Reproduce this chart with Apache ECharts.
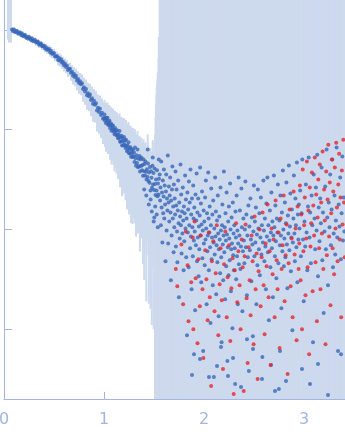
<!DOCTYPE html>
<html><head><meta charset="utf-8">
<script src="https://cdn.jsdelivr.net/npm/echarts@6/dist/echarts.min.js"></script>
<style>html,body{margin:0;padding:0;background:#fff;}#c{width:345px;height:437px;}</style>
</head><body><div id="c"></div>
<script>
// Tick positions
const xTicks = [0, 1, 2, 3];
const yTicks = [1, 10, 100, 1000];

// Low-q region: scattering vector q, intensity I, error
const qLow = [0.04,0.05,0.06,0.07,0.08,0.09,0.10,0.11,0.12,0.13,0.14,0.15,0.16,0.17,0.18,0.19,0.20,0.21,0.22,0.23,0.24,0.25,0.26,0.27,0.28,0.29,0.30,
0.31,0.32,0.33,0.34,0.35,0.36,0.37,0.38,0.39,0.40,0.41,0.42,0.43,0.44,0.45,0.46,0.47,0.48,0.49,0.50,0.51,0.52,0.53,0.54,0.55,0.56,0.57,0.58,0.59,0.60,
0.61,0.62,0.63,0.64,0.65,0.66,0.67,0.68,0.69,0.70,0.71,0.72,0.73,0.74,0.75,0.76,0.77,0.78,0.79,0.80,0.81,0.82,0.83,0.84,0.85,0.86,0.87,0.88,0.89,0.90,
0.91,0.92,0.93,0.94,0.95,0.96,0.97,0.98,0.99,
1.000,1.005,1.010,1.015,1.020,1.025,1.030,1.035,1.040,1.045,1.050,1.055,1.060,1.065,1.070,1.075,1.080,1.085,1.090,1.095,
1.100,1.105,1.110,1.115,1.120,1.125,1.130,1.135,1.140,1.145,1.150,1.155,1.160,1.165,1.170,1.175,1.180,1.185,1.190,1.195,
1.200,1.205,1.210,1.215,1.220,1.225,1.230,1.235,1.240,1.245,1.250,1.255,1.260,1.265,1.270,1.275,1.280,1.285,1.290,1.295,
1.300,1.305,1.310,1.315,1.320,1.325,1.330,1.335,1.340,1.345,1.350,1.355,1.360,1.365,1.370,1.375,1.380,1.385,1.390,1.395,
1.400,1.405,1.410,1.415,1.420,1.425,1.430,1.435,1.440,1.445,1.450,1.455,1.460,1.465,1.470,1.475,1.480,1.485,1.490,1.495,
1.500,1.505,1.510,1.515,1.520,1.525,1.530,1.535,1.540,1.545,1.550];
const iLow = [2300,2200,2150,2100,
1010,977,1010,955,966,977,923,933,944,891,923,871,881,891,841,851,822,851,822,794,822,776,785,
794,748,755,762,710,724,729,685,690,695,653,672,632,638,642,596,618,578,580,588,543,545,546,499,524,490,508,468,479,442,
457,426,438,397,405,407,372,381,347,362,335,348,311,322,294,306,286,292,256,266,242,255,222,232,216,225,198,207,182,195,
178,184,156,166,150,162,140,148,129,
131,142,123,131,116,130,122,132,112,120,112,123,104,111,115,97.7,110,102,110,96.4,
100,90.2,104,92.5,98.2,87.3,98.9,88.7,82,89.3,82.6,96.8,75.5,84.3,75.9,86.7,69.5,82,76.6,69.8,
84.3,70.5,77.6,65.6,79.4,68.2,60.8,70,62.4,74.8,58.1,65,58,66.7,53.6,62.7,58.5,53.3,63.4,54,
59.2,47.5,66.1,51.8,43.5,55.3,46.3,63.1,42.1,51,42.9,54.6,38,50.4,43.3,52.4,39.1,44.2,34.5,50.2,
38.3,45.4,34.7,48.1,37.8,31.6,40.2,33.6,45.8,30.5,37.2,29.4,42.2,24.6,38.2,32.9,26.1,43.4,28.2,36.8,
24.9,40.7,28.5,22.1,31.7,24.5,39.3,21.5,28.9,22.4,32.2];
const eLow = [1500,1450,1400,1350,
51,50,50,49,49,48,48,48,47,47,47,47,47,47,47,47,47,47,47,47,47,47,47,
48,48,49,49,50,51,52,52,53,54,54,55,55,56,56,57,57,57,57,57,57,57,58,58,58,59,59,59,59,59,
59,59,60,60,61,61,62,62,63,64,63,63,64,64,65,65,65,65,65,65,64,64,64,63,63,63,62,62,62,61,
60,60,60,59,59,58,58,57,57,
57,57,56,56,56,56,55,55,55,55,54,54,54,54,53,53,53,53,52,52,
52,52,51,51,51,51,50,50,50,50,49,49,49,49,48,48,48,48,47,47,
47,47,46,46,46,45,45,45,44,44,44,43,43,43,42,42,42,42,41,41,
36,36,35,35,35,34,34,34,33,33,33,32,32,32,31,31,31,30,30,30,
28,28,27,27,27,26,26,26,25,25,24,24,23,23,22,22,22,22,22,22,
22,35,60,110,150,200,250,300,350,500,800];

// Extra points in the widening band
const qMid = [1.402,1.423,1.437,1.448,1.466,1.478,1.487,1.497,1.503,1.512,1.527,1.538,1.548];
const iMid = [25.1,21.9,63.1,17.8,20.0,15.1,52.5,12.0,13.2,17.0,14.1,10.5,50.1];
const eMid = [22,20,27,16,18,14,26,11,12,60,250,350,800];

// High-q region, positive intensities
const qHigh = [
1.557,1.561,1.565,1.569,1.572,1.576,1.580,1.584,1.588,1.592,1.596,1.599,
1.603,1.607,1.611,1.615,1.619,1.622,1.626,1.630,1.634,1.638,1.642,1.646,1.649,
1.653,1.657,1.661,1.665,1.669,1.672,1.676,1.680,1.684,1.688,1.692,1.696,1.699,
1.703,1.707,1.711,1.715,1.719,1.722,1.726,1.730,1.734,1.738,1.742,1.746,1.749,
1.753,1.757,1.761,1.765,1.769,1.772,1.776,1.780,1.784,1.788,1.792,1.796,1.799,
1.803,1.807,1.811,1.815,1.819,1.822,1.826,1.830,1.834,1.838,1.842,1.846,1.849,
1.853,1.857,1.861,1.865,1.869,1.872,1.876,1.880,1.884,1.888,1.892,1.896,1.899,
1.903,1.907,1.911,1.915,1.919,1.922,1.926,1.930,1.934,1.938,1.942,1.946,1.949,
1.953,1.957,1.961,1.965,1.969,1.972,1.976,1.980,1.984,1.988,1.992,1.996,1.999,
2.003,2.007,2.011,2.015,2.019,2.022,2.026,2.030,2.034,2.038,2.042,2.046,2.049,
2.053,2.057,2.061,2.065,2.069,2.072,2.076,2.080,2.084,2.088,2.092,2.096,2.099,
2.103,2.107,2.111,2.115,2.119,2.122,2.126,2.130,2.134,2.138,2.142,2.146,2.149,
2.153,2.157,2.161,2.165,2.169,2.172,2.176,2.180,2.184,2.188,2.192,2.196,2.199,
2.203,2.207,2.211,2.215,2.219,2.222,2.226,2.230,2.234,2.238,2.242,2.246,2.249,
2.253,2.257,2.261,2.265,2.269,2.272,2.276,2.280,2.284,2.288,2.292,2.296,2.299,
2.303,2.307,2.311,2.315,2.319,2.322,2.326,2.330,2.334,2.338,2.342,2.346,2.349,
2.354,2.359,2.364,2.369,2.374,2.379,2.384,2.389,2.394,2.399,
2.404,2.409,2.414,2.419,2.424,2.429,2.434,2.439,2.444,2.449,
2.454,2.459,2.464,2.469,2.474,2.479,2.484,2.489,2.494,2.499,
2.504,2.509,2.514,2.519,2.524,2.529,2.534,2.539,2.544,2.549,
2.554,2.559,2.564,2.569,2.574,2.579,2.584,2.589,2.594,2.599,
2.604,2.609,2.614,2.619,2.624,2.629,2.634,2.639,2.644,2.649,
2.654,2.659,2.664,2.669,2.674,2.679,2.684,2.689,2.694,2.699,
2.704,2.709,2.714,2.719,2.724,2.729,2.734,2.739,2.744,2.749,
2.754,2.759,2.764,2.769,2.774,2.779,2.784,2.789,2.794,2.799,
2.804,2.809,2.814,2.819,2.824,2.829,2.834,2.839,2.844,2.849,
2.854,2.859,2.864,2.869,2.874,2.879,2.884,2.889,2.894,2.899,
2.904,2.909,2.914,2.919,2.924,2.929,2.934,2.939,2.944,2.949,
2.955,2.962,2.969,2.976,2.983,2.990,2.997,
3.005,3.012,3.019,3.026,3.033,3.040,3.047,
3.055,3.062,3.069,3.076,3.083,3.090,3.097,
3.105,3.112,3.119,3.126,3.133,3.140,3.147,
3.155,3.162,3.169,3.176,3.183,3.190,3.197,
3.205,3.212,3.219,3.226,3.233,3.240,3.247,
3.255,3.262,3.269,3.276,3.283,3.290,3.297,
3.305,3.312,3.319,3.326,3.333,3.340,3.347,
3.355,3.362,3.369,3.376,3.383,3.390,3.397,3.404,
1.900,1.960,2.050,2.170,2.240,2.290,2.370,2.490,2.580,2.670,2.760,2.820,3.140,3.240,3.370,1.880,2.130,2.430,2.710,2.980,3.060];
const iHigh = [
35.5,19.5,26.3,11.0,47.9,16.6,23.4,7.41,30.9,14.5,21.4,39.8,
12.9,27.5,17.8,4.79,24.0,35.5,9.77,20.4,15.5,55.0,7.24,18.6,26.9,
12.0,21.9,33.1,14.8,3.09,19.5,8.71,25.1,42.7,12.9,17.0,5.89,28.2,
10.5,20.4,14.1,38.0,6.76,17.4,25.1,9.55,4.68,15.5,30.9,11.5,2.09,
18.6,8.13,13.5,44.7,11.0,22.4,5.75,15.1,9.12,26.3,12.3,3.89,17.0,
7.59,14.5,34.7,10.2,20.0,5.25,12.9,0.871,23.4,9.33,15.8,4.17,30.2,
11.0,18.6,6.46,39.8,8.51,14.1,2.51,20.4,10.5,5.37,27.5,12.9,7.76,
16.6,9.55,1.55,22.4,6.92,12.3,36.3,4.79,14.8,8.32,20.4,3.39,10.7,
6.31,13.8,41.7,8.71,18.2,2.95,11.2,24.0,5.13,9.77,0.603,15.5,7.24,
12.0,4.37,20.9,7.94,30.9,10.2,1.78,14.5,6.03,8.71,37.2,12.9,3.89,
9.33,17.0,6.61,1.15,11.0,25.7,5.01,8.32,14.1,2.75,19.5,7.41,0.331,
10.2,5.62,33.1,8.51,15.1,2.24,6.92,12.3,4.68,21.9,9.12,1.35,6.31,
13.5,7.94,3.63,26.3,9.77,5.25,0.741,11.0,17.8,7.08,3.09,8.71,38.0,
5.89,10.5,2.00,14.5,7.76,4.27,23.4,8.91,0.479,6.61,12.0,3.47,17.0,
8.13,4.90,28.8,10.0,2.40,6.31,13.2,7.24,1.02,18.6,5.50,9.12,3.89,
11.0,6.46,0.282,15.1,8.32,3.16,21.9,5.37,9.77,1.78,7.24,33.1,4.47,
8.71,15.5,4.00,6.76,25.7,10.5,1.51,6.03,12.9,7.76,
4.57,10.0,30.2,6.61,14.1,2.19,8.71,5.25,17.4,0.380,
10.7,6.17,20.4,7.94,3.02,13.2,7.08,0.851,9.55,27.5,
5.37,12.0,7.41,16.6,1.78,8.91,4.37,25.1,10.2,6.31,
14.5,3.47,8.32,20.9,5.62,11.0,0.525,7.41,30.9,9.77,
4.79,12.9,6.76,2.51,18.2,8.51,33.1,5.89,11.0,1.23,
7.76,15.5,4.17,9.33,23.4,6.46,12.0,2.09,8.71,34.7,
10.5,5.37,17.4,7.59,3.24,12.9,9.33,28.2,4.57,0.251,
12.3,6.92,21.9,8.71,1.62,14.8,6.03,38.9,10.0,4.27,
8.13,18.6,5.25,11.5,29.5,7.08,2.57,13.8,9.12,43.7,
6.17,10.7,22.9,3.80,8.32,15.8,0.977,7.41,12.9,34.7,
9.12,4.79,20.4,11.0,6.61,46.8,2.95,14.1,7.94,17.8,
10.2,24.5,5.37,14.5,50.1,7.94,1.91,
12.0,6.76,28.2,9.33,3.89,17.0,52.5,
8.32,14.8,4.57,21.9,11.0,0.741,35.5,
12.9,6.31,26.3,9.77,56.2,3.39,16.6,
7.59,20.4,11.5,41.7,4.90,14.8,1.45,
9.55,26.9,6.31,63.1,13.2,2.75,18.6,
10.5,35.5,6.92,15.8,50.1,4.17,9.12,
21.9,5.62,12.3,66.1,8.32,0.603,17.8,
10.7,33.1,5.01,14.5,53.7,7.76,20.9,9.55,
0.562,0.501,0.331,0.661,0.339,0.513,0.263,0.631,0.316,0.437,0.603,0.302,0.447,0.219,0.562,0.347,0.427,0.794,0.240,0.398,0.282];
const eHigh = [
2300,2450,2380,2600,2350,2520,2410,2700,2480,2390,2560,2440,
2500,2620,2470,2750,2530,2410,2680,2590,2460,2810,2550,2640,2500,
2580,2720,2490,2660,2850,2540,2610,2770,2520,2690,2600,2830,2570,
2650,2780,2560,2900,2700,2620,2840,2690,2950,2610,2760,2680,2880,
2720,2860,2640,2980,2750,2690,2910,2780,2650,2830,2740,3020,2700,
2800,2940,2710,3050,2780,2870,2990,2760,2920,2820,3080,2740,2900,
2880,3010,2790,3120,2850,2960,3060,2830,2990,2900,3150,2810,2970,
2950,3090,2870,3200,2930,3030,3140,2910,3070,2980,3220,2890,3040,
3020,3160,2950,3270,3000,3110,3210,2990,3150,3060,3300,2970,3120,
3100,3240,3020,3350,3080,3180,3290,3060,3230,3130,3380,3050,3200,
3170,3310,3100,3420,3150,3260,3370,3140,3300,3210,3460,3120,3280,
3250,3390,3170,3500,3230,3330,3440,3210,3380,3290,3530,3200,3350,
3320,3460,3250,3570,3300,3410,3520,3290,3450,3360,3610,3270,3430,
3400,3540,3320,3650,3380,3480,3590,3360,3530,3440,3690,3350,3500,
3470,3610,3400,3720,3450,3560,3670,3440,3600,3510,3760,3420,3580,
3550,3690,3470,3800,3530,3630,3740,3510,3680,3590,3840,3500,3650,
3620,3760,3550,3870,3600,3710,3820,3590,3750,3660,
3700,3840,3620,3950,3680,3780,3890,3660,3830,3740,
3770,3910,3700,4020,3750,3860,3970,3740,3900,3810,
3850,3990,3770,4100,3830,3930,4040,3810,3980,3890,
3920,4060,3850,4170,3900,4010,4120,3890,4050,3960,
4000,4140,3920,4250,3980,4080,4190,3960,4130,4040,
4070,4210,4000,4320,4050,4160,4270,4040,4200,4110,
4150,4290,4070,4400,4130,4230,4340,4110,4280,4190,
4220,4360,4150,4470,4200,4310,4420,4190,4350,4260,
4300,4440,4220,4550,4280,4380,4490,4260,4430,4340,
4370,4510,4300,4620,4350,4460,4570,4340,4500,4410,
4450,4590,4370,4700,4430,4530,4640,4410,4580,4490,
4520,4660,4450,4770,4500,4610,4720,
4600,4740,4520,4850,4580,4680,4790,
4670,4810,4600,4920,4650,4760,4870,
4750,4890,4670,5000,4730,4830,4940,
4820,4960,4750,5070,4800,4910,5020,
4900,5040,4820,5150,4880,4980,5090,
4970,5110,4900,5220,4950,5060,5170,
5050,5190,4970,5300,5030,5130,5240,
5120,5260,5050,5370,5100,5210,5320,5090,
3000,2900,3200,3400,3500,3600,3800,3900,4100,4300,4400,4500,4800,5000,5200,2950,3300,3800,4200,4700,4600];

// High-q region, negative intensities (drawn as |I| in red)
const qNeg = [
1.718,1.733,1.774,1.791,1.818,1.836,1.845,1.872,1.887,1.894,1.905,1.917,1.935,1.944,
1.958,1.967,1.985,1.994,2.012,2.024,2.036,2.047,2.058,2.071,2.079,2.093,2.105,2.117,2.128,2.143,2.157,2.166,2.178,2.190,
2.201,2.213,2.227,2.236,2.251,2.263,2.274,2.286,2.297,2.308,2.321,2.333,2.344,
2.356,2.366,2.377,2.387,2.397,2.406,2.416,2.426,2.436,2.446,2.456,2.466,2.476,2.486,2.496,2.506,2.516,2.526,2.536,2.546,
2.556,2.566,2.576,2.586,2.596,2.606,2.616,2.626,2.636,2.646,2.656,2.666,2.676,2.686,2.696,2.706,2.716,2.726,2.736,2.746,
2.756,2.766,2.776,2.786,2.796,2.806,2.816,2.826,2.836,2.846,2.856,2.866,2.876,2.886,2.896,2.906,2.916,2.926,2.936,2.946,
2.953,2.959,2.966,2.973,2.980,2.987,2.994,
3.001,3.008,3.015,3.022,3.029,3.036,3.044,
3.051,3.058,3.065,3.072,3.079,3.086,3.093,
3.101,3.108,3.115,3.122,3.129,3.136,3.143,
3.151,3.158,3.165,3.172,3.179,3.186,3.193,
3.201,3.208,3.215,3.222,3.229,3.236,3.243,
3.251,3.258,3.265,3.272,3.279,3.286,3.293,
3.301,3.308,3.315,3.322,3.329,3.336,3.343,
3.351,3.358,3.365,3.372,3.379,3.386,3.393,
3.400,3.407];
const iNeg = [
-4.00,-2.69,-7.08,-1.78,-9.55,-4.37,-1.20,-2.95,-8.32,-1.00,-12.0,-3.24,-0.724,-5.01,
-1.70,-8.71,-2.51,-0.513,-6.17,-3.16,-1.23,-9.33,-2.09,-0.269,-4.79,-7.59,-1.51,-3.63,-11.0,-0.871,-2.82,-6.46,-1.95,-0.398,
-4.47,-9.55,-1.32,-3.31,-6.92,-0.759,-2.57,-5.13,-0.224,-3.89,-11.5,-1.86,-6.03,
-2.75,-1.00,-7.94,-4.17,-0.240,-5.37,-11.2,-2.04,-0.457,-6.61,-3.09,-1.38,-8.71,-4.79,-0.708,-13.5,-2.51,-5.75,-0.316,-3.80,
-10.0,-1.70,-5.25,-14.8,-2.75,-0.891,-7.24,-4.27,-17.8,-2.09,-6.03,-0.437,-10.2,-3.55,-7.94,-1.32,-19.5,-4.90,-2.51,-9.33,
-0.646,-12.9,-4.00,-6.92,-21.9,-1.91,-5.50,-11.2,-0.355,-4.57,-15.8,-2.69,-8.13,-1.32,-24.0,-5.62,-10.2,-0.776,-17.0,-4.00,
-7.24,-27.5,-3.09,-14.1,-1.00,-39.8,-6.03,
-11.0,-20.9,-2.19,-8.13,-47.9,-4.17,-15.5,
-0.562,-26.3,-6.76,-11.5,-37.2,-2.40,-17.4,
-8.71,-52.5,-4.68,-22.4,-1.20,-13.2,-31.6,
-6.46,-44.7,-2.51,-18.6,-9.12,-60.3,-4.00,
-25.1,-12.3,-0.708,-38.0,-5.50,-20.0,-70.8,
-8.51,-29.5,-1.74,-14.5,-50.1,-6.46,-24.0,
-3.55,-41.7,-10.2,-74.1,-16.6,-4.79,-28.2,
-57.5,-7.94,-20.9,-1.32,-38.9,-11.2,-79.4,
-18.6,-5.25];
const eNeg = [
2650,2800,2900,2750,2950,2850,3000,2900,3050,2950,3100,3000,3150,3050,
3100,3200,3150,3250,3300,3200,3350,3250,3400,3300,3450,3350,3500,3400,3550,3450,3600,3500,3650,3550,
3700,3600,3750,3650,3800,3700,3850,3750,3900,3800,3950,3850,4000,
3900,4000,3950,4050,4100,4000,4150,4050,4200,4100,4250,4150,4300,4200,4350,4250,4400,4300,4450,4350,
4500,4400,4550,4450,4600,4500,4650,4550,4700,4600,4750,4650,4800,4700,4850,4750,4900,4800,4950,4850,
5000,4900,5050,4950,5100,5000,5150,5050,5200,5100,5250,5150,5300,5200,5350,5250,5400,5300,5450,5350,
5200,5300,5250,5350,5400,5300,5450,
5350,5500,5400,5550,5450,5600,5500,
5650,5550,5700,5600,5750,5650,5800,
5700,5850,5750,5900,5800,5950,5850,
6000,5900,6050,5950,6100,6000,6150,
6050,6200,6100,6250,6150,6300,6200,
6350,6250,6400,6300,6450,6350,6500,
6400,6550,6450,6600,6500,6650,6550,
6700,6600,6750,6650,6800,6700,6850,
6750,6900];

function check(name, a, b, c) {
  if (a.length !== b.length || a.length !== c.length) throw new Error(name + ' length mismatch ' + a.length + ' ' + b.length + ' ' + c.length);
}
check('low', qLow, iLow, eLow);
check('mid', qMid, iMid, eMid);
check('high', qHigh, iHigh, eHigh);
check('neg', qNeg, iNeg, eNeg);

const Y_MIN = Math.pow(10, -0.7);
const Y_MAX = Math.pow(10, 3.3);
const AX = '#a3b5e0';
const ERR = '#cdd9ed';
const BLUE = '#3767b8';
const RED = '#e6262e';

function bars(q, I, E) {
  return q.map((x, k) => [x, Math.min(I[k] + E[k], Y_MAX), Math.max(I[k] - E[k], Y_MIN)]);
}
function pts(q, I) {
  return q.map((x, k) => [x, Math.abs(I[k])]);
}

const barData = bars(qLow, iLow, eLow).concat(bars(qMid, iMid, eMid), bars(qHigh, iHigh, eHigh), bars(qNeg, iNeg, eNeg));
const bluePts = pts(qLow, iLow).concat(pts(qMid, iMid), pts(qHigh, iHigh));
const redPts = pts(qNeg, iNeg);

const chart = echarts.init(document.getElementById('c'), null, { renderer: 'canvas' });
chart.setOption({
  animation: false,
  grid: { left: 4, right: 0, top: 0, bottom: 38, containLabel: false, outerBoundsMode: 'none' },
  xAxis: {
    type: 'value', min: 0, max: 3.41,
    axisLine: { show: true, onZero: false, lineStyle: { color: AX, width: 1 } },
    axisTick: { show: true, inside: true, length: 7, lineStyle: { color: AX }, customValues: xTicks },
    axisLabel: { show: true, customValues: xTicks, color: AX, fontSize: 16, margin: 13, fontFamily: 'DejaVu Sans' },
    splitLine: { show: false }
  },
  yAxis: {
    type: 'log', logBase: 10, min: Y_MIN, max: Y_MAX,
    axisLine: { show: true, onZero: false, lineStyle: { color: AX, width: 1 } },
    axisTick: { show: true, inside: true, length: 8, lineStyle: { color: AX }, customValues: yTicks },
    axisLabel: { show: false },
    splitLine: { show: false }
  },
  series: [
    {
      type: 'custom', name: 'error', data: barData, z: 1, silent: true,
      encode: { x: 0, y: [1, 2] },
      renderItem: function (params, api) {
        const top = api.coord([api.value(0), api.value(1)]);
        const bot = api.coord([api.value(0), api.value(2)]);
        return { type: 'rect', shape: { x: top[0] - 1, y: top[1], width: 2, height: bot[1] - top[1] }, style: { fill: ERR } };
      }
    },
    { type: 'scatter', name: 'I>0', data: bluePts, symbol: 'circle', symbolSize: 4, itemStyle: { color: BLUE }, z: 2, silent: true },
    { type: 'scatter', name: 'I<0', data: redPts, symbol: 'circle', symbolSize: 4, itemStyle: { color: RED }, z: 3, silent: true }
  ]
});
</script>
</body></html>
